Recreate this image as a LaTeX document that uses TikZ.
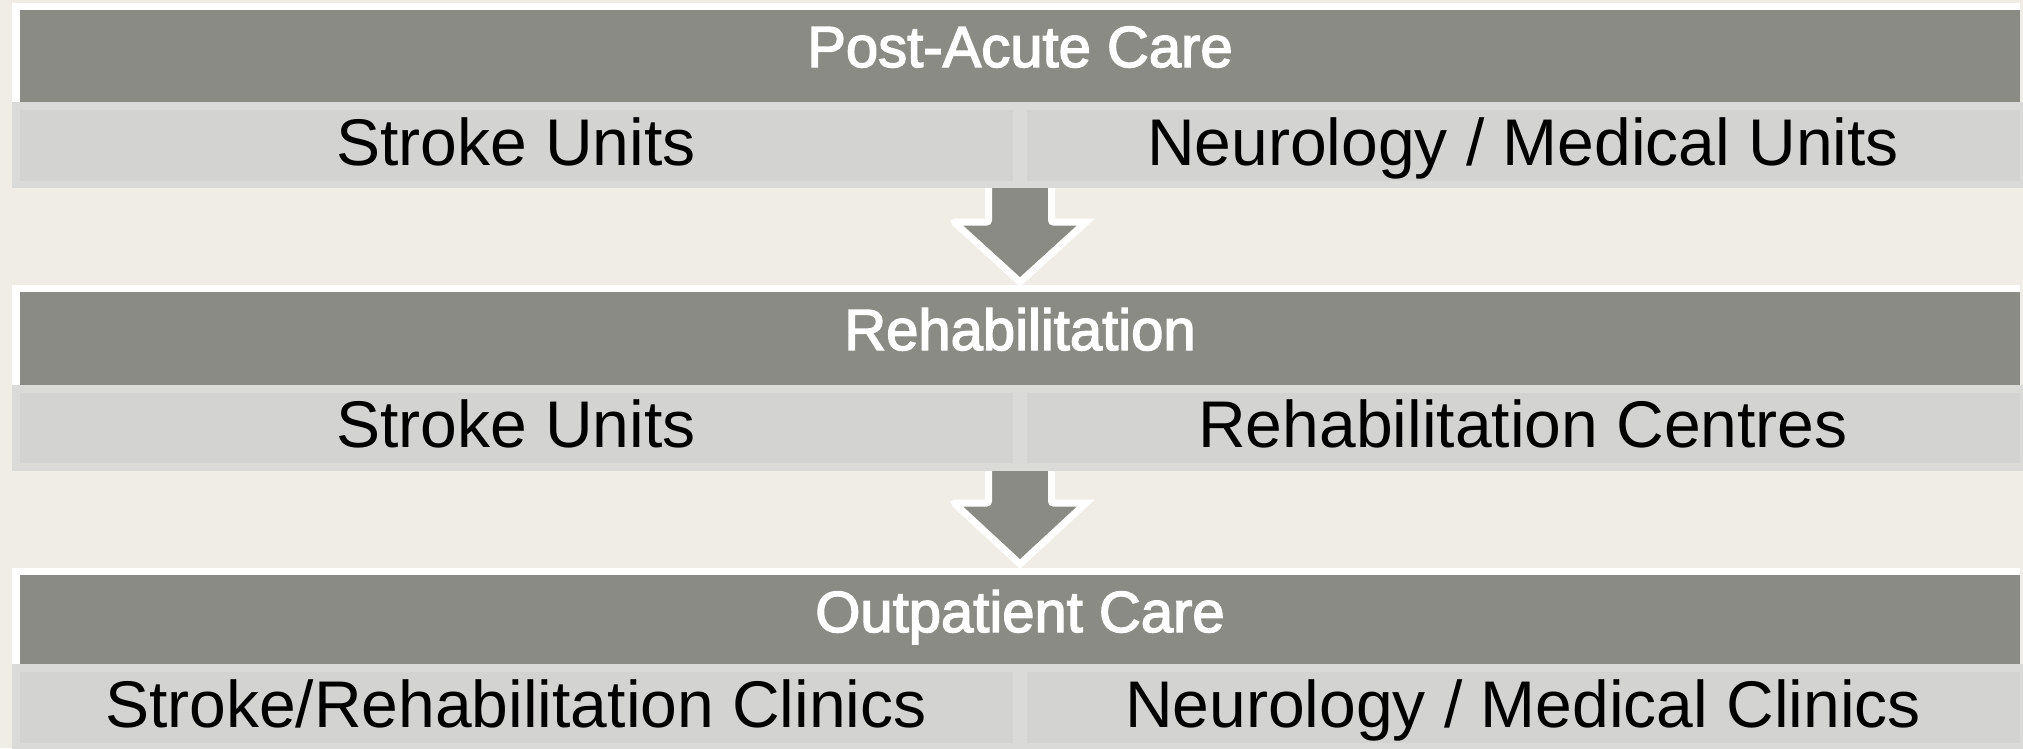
\documentclass[tikz,border=0pt]{standalone}
\usepackage{fontspec}
\setmainfont{Liberation Sans}
\newfontfamily\hdrfont[FakeBold=2.5]{Liberation Sans}
\usetikzlibrary{calc}
\definecolor{bgc}{RGB}{239,237,229}
\definecolor{hdrc}{RGB}{139,139,133}
\definecolor{bandc}{RGB}{218,218,216}
\definecolor{cellc}{RGB}{211,211,209}
\tikzset{
  frame/.style={fill=white, draw=none},
  hdr/.style={fill=hdrc, draw=none},
  band/.style={fill=bandc, draw=none},
  cell/.style={fill=cellc, draw=none},
  hdrtext/.style={anchor=base, inner sep=0pt, text=white, font=\fontsize{58}{62}\hdrfont},
  celltext/.style={anchor=base, inner sep=0pt, text=black, font=\fontsize{66}{72}\selectfont},
  flowarrow/.style={draw=white, line width=7pt, fill=hdrc, line join=miter, rounded corners=2pt}
}
\begin{document}
\begin{tikzpicture}[x=1pt,y=-1pt]
\useasboundingbox (0,0) rectangle (2023,748);
\fill[bgc] (0,0) rectangle (2023,748);

% arrows (drawn first, tops hidden under the bands)
\coordinate (a1) at (1020,180);
\coordinate (a2) at (1020,463);
\draw[flowarrow] ($(a1)+(-31.5,0)$) -- ($(a1)+(-31.5,42)$) -- ($(a1)+(-66,42)$) [sharp corners] -- ($(a1)+(0,102)$) -- ($(a1)+(66,42)$) [rounded corners=2pt] -- ($(a1)+(31.5,42)$) -- ($(a1)+(31.5,0)$);
\draw[flowarrow] ($(a2)+(-31.5,0)$) -- ($(a2)+(-31.5,40)$) -- ($(a2)+(-66,40)$) [sharp corners] -- ($(a2)+(0,101)$) -- ($(a2)+(66,40)$) [rounded corners=2pt] -- ($(a2)+(31.5,40)$) -- ($(a2)+(31.5,0)$);

% row 1
\fill[frame] (12,3) rectangle (2020,102);
\fill[hdr] (20,10) rectangle (2020,102);
\fill[band] (12,102) rectangle (2023,188);
\fill[cell] (20,110) rectangle (1013,181);
\fill[cell] (1027,110) rectangle (2020,181);
\node[hdrtext] (h1) at (1020,67) {Post-Acute Care};
\node[celltext] (c1l) at (516,165) {Stroke Units};
\node[celltext] (c1r) at (1523,165) {Neurology / Medical Units};

% row 2
\fill[frame] (12,285) rectangle (2020,385);
\fill[hdr] (20,292) rectangle (2020,385);
\fill[band] (12,385) rectangle (2023,471);
\fill[cell] (20,393) rectangle (1013,463);
\fill[cell] (1027,393) rectangle (2020,463);
\node[hdrtext] (h2) at (1020,350) {Rehabilitation};
\node[celltext] (c2l) at (516,447) {Stroke Units};
\node[celltext] (c2r) at (1523,447) {Rehabilitation Centres};

% row 3
\fill[frame] (12,568) rectangle (2020,664);
\fill[hdr] (20,575) rectangle (2020,664);
\fill[band] (12,664) rectangle (2023,755);
\fill[cell] (20,672) rectangle (1013,743);
\fill[cell] (1027,672) rectangle (2020,743);
\node[hdrtext] (h3) at (1020,632) {Outpatient Care};
\node[celltext] (c3l) at (516,727) {Stroke/Rehabilitation Clinics};
\node[celltext] (c3r) at (1523,727) {Neurology / Medical Clinics};
\end{tikzpicture}
\end{document}
